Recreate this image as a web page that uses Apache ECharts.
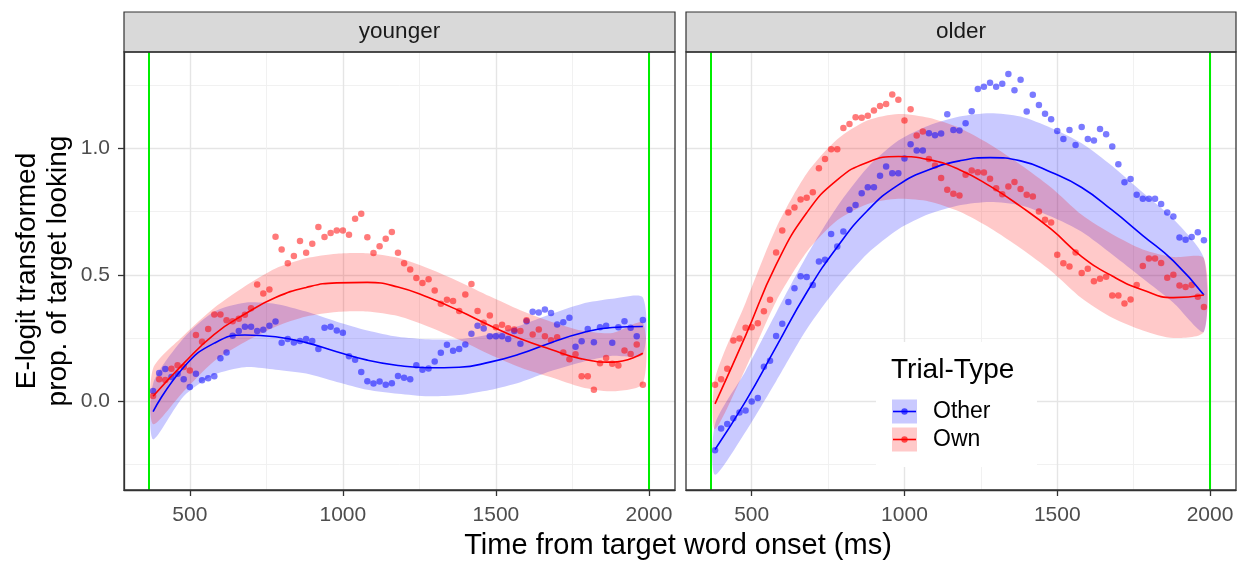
<!DOCTYPE html>
<html>
<head>
<meta charset="utf-8">
<script src="https://cdn.jsdelivr.net/npm/echarts@6.0.0/dist/echarts.min.js"></script>
<style>
  html, body { margin: 0; padding: 0; background: #fff; }
  #container { width: 1251px; height: 564px; }
</style>
</head>
<body>
<div id="container"></div>
<script>
// time bins (ms), shared by every point series
var times = [380, 400, 420, 440, 460, 480, 500, 520, 540, 560, 580, 600, 620, 640, 660, 680, 700, 720, 740, 760,
  780, 800, 820, 840, 860, 880, 900, 920, 940, 960, 980, 1000, 1020, 1040, 1060, 1080, 1100, 1120, 1140, 1160,
  1180, 1200, 1220, 1240, 1260, 1280, 1300, 1320, 1340, 1360, 1380, 1400, 1420, 1440, 1460, 1480, 1500, 1520, 1540, 1560,
  1580, 1600, 1620, 1640, 1660, 1680, 1700, 1720, 1740, 1760, 1780, 1800, 1820, 1840, 1860, 1880, 1900, 1920, 1940, 1960, 1980];

var youngOwn = [0.021, 0.087, 0.084, 0.129, 0.143, 0.136, 0.122, 0.262, 0.236, 0.286, 0.343, 0.343, 0.320, 0.317, 0.326, 0.342, 0.368, 0.462, 0.426, 0.442,
  0.650, 0.600, 0.546, 0.574, 0.633, 0.587, 0.623, 0.689, 0.649, 0.665, 0.675, 0.675, 0.658, 0.721, 0.741, 0.648, 0.586, 0.613, 0.642, 0.669,
  0.587, 0.546, 0.521, 0.487, 0.468, 0.482, 0.438, 0.386, 0.401, 0.397, 0.357, 0.422, 0.464, 0.357, 0.311, 0.339, 0.293, 0.303, 0.289, 0.284,
  0.278, 0.320, 0.264, 0.284, 0.257, 0.241, 0.253, 0.193, 0.166, 0.186, 0.099, 0.099, 0.046, 0.151, 0.171, 0.149, 0.142, 0.201, 0.187, 0.225, 0.066];

var youngOther = [0.041, 0.112, 0.128, 0.096, 0.109, 0.087, 0.057, 0.109, 0.083, 0.091, 0.099, 0.170, 0.193, 0.259, 0.278, 0.295, 0.295, 0.278, 0.283, 0.299,
  0.316, 0.232, 0.246, 0.233, 0.239, 0.246, 0.239, 0.207, 0.291, 0.295, 0.280, 0.271, 0.178, 0.164, 0.116, 0.080, 0.071, 0.079, 0.066, 0.072,
  0.100, 0.093, 0.087, 0.143, 0.125, 0.130, 0.158, 0.192, 0.224, 0.200, 0.207, 0.225, 0.267, 0.299, 0.288, 0.257, 0.257, 0.257, 0.246, 0.278,
  0.228, 0.317, 0.354, 0.351, 0.363, 0.349, 0.304, 0.313, 0.330, 0.216, 0.238, 0.286, 0.234, 0.293, 0.299, 0.232, 0.293, 0.317, 0.291, 0.257, 0.321];

var olderOwn = [0.066, 0.087, 0.129, 0.240, 0.248, 0.291, 0.293, 0.309, 0.356, 0.401, 0.588, 0.675, 0.746, 0.766, 0.797, 0.804, 0.826, 0.921, 0.957, 0.996,
  0.996, 1.080, 1.096, 1.122, 1.120, 1.128, 1.149, 1.167, 1.175, 1.212, 1.191, 1.109, 1.154, 1.050, 1.066, 0.957, 0.932, 0.882, 0.836, 0.820,
  0.813, 0.895, 0.912, 0.905, 0.904, 0.879, 0.842, 0.818, 0.849, 0.867, 0.839, 0.816, 0.809, 0.750, 0.717, 0.707, 0.579, 0.546, 0.533, 0.588,
  0.507, 0.524, 0.475, 0.484, 0.492, 0.418, 0.418, 0.387, 0.402, 0.460, 0.535, 0.564, 0.564, 0.547, 0.488, 0.500, 0.458, 0.452, 0.460, 0.413, 0.373];

var olderOther = [-0.193, -0.107, -0.089, -0.067, -0.044, -0.036, 0.000, 0.013, 0.137, 0.161, 0.258, 0.307, 0.393, 0.447, 0.494, 0.491, 0.460, 0.553, 0.559, 0.661,
  0.612, 0.671, 0.757, 0.776, 0.822, 0.846, 0.846, 0.891, 0.928, 0.901, 0.901, 0.959, 1.016, 0.991, 0.991, 1.059, 1.051, 1.058, 1.134, 1.072,
  1.070, 1.099, 1.146, 1.234, 1.243, 1.259, 1.243, 1.255, 1.293, 1.229, 1.270, 1.145, 1.211, 1.171, 1.136, 1.114, 1.068, 1.036, 1.072, 1.013,
  1.084, 1.036, 1.030, 1.076, 1.055, 1.007, 0.937, 0.866, 0.878, 0.816, 0.800, 0.800, 0.800, 0.780, 0.746, 0.730, 0.647, 0.638, 0.649, 0.668, 0.636];

// fitted curves and their confidence bands, read at these times
var fitT = [380, 480, 580, 680, 780, 880, 980, 1080, 1180, 1280, 1380, 1480, 1580, 1680, 1780, 1880, 1980];

var youngOwnFit = [0.02, 0.15, 0.265, 0.345, 0.41, 0.45, 0.468, 0.47, 0.452, 0.41, 0.358, 0.30, 0.247, 0.205, 0.168, 0.155, 0.19];
var youngOwnHi  = [0.13, 0.26, 0.37, 0.455, 0.525, 0.565, 0.583, 0.585, 0.567, 0.525, 0.473, 0.415, 0.36, 0.315, 0.28, 0.27, 0.31];
var youngOwnLo  = [-0.09, 0.04, 0.16, 0.235, 0.295, 0.335, 0.353, 0.355, 0.337, 0.295, 0.243, 0.185, 0.134, 0.095, 0.056, 0.04, 0.07];

var youngOtherFit = [-0.04, 0.135, 0.23, 0.262, 0.255, 0.232, 0.196, 0.163, 0.142, 0.133, 0.135, 0.155, 0.188, 0.232, 0.27, 0.292, 0.296];
var youngOtherHi  = [0.07, 0.25, 0.355, 0.39, 0.385, 0.355, 0.315, 0.28, 0.255, 0.245, 0.245, 0.265, 0.30, 0.345, 0.385, 0.405, 0.41];
var youngOtherLo  = [-0.15, 0.02, 0.105, 0.135, 0.125, 0.11, 0.077, 0.046, 0.03, 0.02, 0.025, 0.045, 0.076, 0.12, 0.155, 0.18, 0.185];

var olderOwnFit = [-0.01, 0.26, 0.54, 0.745, 0.875, 0.945, 0.967, 0.955, 0.915, 0.85, 0.77, 0.68, 0.572, 0.495, 0.44, 0.41, 0.42];
var olderOwnHi  = [0.09, 0.39, 0.685, 0.90, 1.035, 1.11, 1.135, 1.12, 1.08, 1.015, 0.935, 0.845, 0.737, 0.66, 0.60, 0.57, 0.565];
var olderOwnLo  = [-0.11, 0.13, 0.395, 0.59, 0.715, 0.78, 0.80, 0.79, 0.75, 0.685, 0.605, 0.515, 0.407, 0.33, 0.28, 0.25, 0.275];

var olderOtherFit = [-0.19, 0.0, 0.215, 0.43, 0.61, 0.755, 0.855, 0.915, 0.95, 0.963, 0.95, 0.905, 0.845, 0.755, 0.655, 0.555, 0.42];
var olderOtherHi  = [-0.09, 0.12, 0.35, 0.575, 0.77, 0.925, 1.03, 1.09, 1.125, 1.138, 1.125, 1.08, 1.02, 0.93, 0.825, 0.72, 0.565];
var olderOtherLo  = [-0.29, -0.12, 0.08, 0.285, 0.45, 0.585, 0.68, 0.74, 0.775, 0.788, 0.775, 0.73, 0.67, 0.58, 0.485, 0.39, 0.275];

var windowT = [367, 2000];          // green analysis-window lines
var xTicks = [500, 1000, 1500, 2000];
var xMinor = [750, 1250, 1750];
var yTicks = [0, 0.5, 1.0];
var yMinor = [-0.25, 0.25, 0.75, 1.25];
var panels = ['younger', 'older'];

var FONT = "'Liberation Sans', Arial, Helvetica, sans-serif";
var BLUE = '#0000FF', RED = '#FF0000';
var BLUE_PT = 'rgba(0,0,255,0.65)', RED_PT = 'rgba(255,0,0,0.65)';
var BLUE_BAND = 'rgba(0,0,255,0.21)', RED_BAND = 'rgba(255,0,0,0.21)';

function pairs(xs, ys) {
  return xs.map(function (x, i) { return [x, ys[i]]; });
}

var grids = [
  { left: 124, top: 52, width: 551, height: 438 },
  { left: 686, top: 52, width: 550, height: 438 }
];

var xAxes = [], yAxes = [];
grids.forEach(function (g, gi) {
  xAxes.push({
    type: 'value', gridIndex: gi, min: 285, max: 2085, position: 'bottom',
    axisLine: { show: true, onZero: false, lineStyle: { color: '#333', width: 1.3 } },
    axisTick: { show: true, inside: false, customValues: xTicks, length: 6, lineStyle: { color: '#333', width: 1.3 } },
    axisLabel: {
      customValues: xTicks, fontSize: 21, color: '#4D4D4D', fontFamily: FONT, margin: 15,
      formatter: function (v) { return String(v); }
    },
    splitLine: { show: true, lineStyle: { color: '#E5E5E5', width: 1.4 } }
  });
  yAxes.push({
    type: 'value', gridIndex: gi, min: -0.35, max: 1.38, position: 'left',
    axisLine: { show: gi === 0, onZero: false, lineStyle: { color: '#333', width: 1.3 } },
    axisTick: { show: gi === 0, inside: false, customValues: yTicks, length: 6, lineStyle: { color: '#333', width: 1.3 } },
    axisLabel: {
      show: gi === 0, customValues: yTicks, fontSize: 21, color: '#4D4D4D', fontFamily: FONT, margin: 14,
      formatter: function (v) { return v.toFixed(1); }
    },
    splitLine: { show: true, lineStyle: { color: '#E5E5E5', width: 1.4 } }
  });
});
// minor grid lines on twin axes
grids.forEach(function (g, gi) {
  xAxes.push({
    type: 'value', gridIndex: gi, min: 285, max: 2085, position: 'top',
    axisLine: { show: false, onZero: false }, axisLabel: { show: false },
    axisTick: { show: false, customValues: xMinor },
    splitLine: { show: true, lineStyle: { color: '#EFEFEF', width: 0.9 } }
  });
  yAxes.push({
    type: 'value', gridIndex: gi, min: -0.35, max: 1.38, position: 'right',
    axisLine: { show: false, onZero: false }, axisLabel: { show: false },
    axisTick: { show: false, customValues: yMinor },
    splitLine: { show: true, lineStyle: { color: '#EFEFEF', width: 0.9 } }
  });
});

var series = [];

// confidence band drawn as one polygon through the band's upper then lower edge
function band(gi, lo, hi, color) {
  series.push({
    type: 'custom', xAxisIndex: gi, yAxisIndex: gi, silent: true, z: 2,
    data: fitT.map(function (t, i) { return [t, lo[i], hi[i]]; }),
    encode: { x: 0, y: [1, 2] },
    renderItem: function (params, api) {
      if (params.dataIndex !== 0) return;
      var upper = fitT.map(function (t, i) { return api.coord([t, hi[i]]); });
      var lower = fitT.map(function (t, i) { return api.coord([t, lo[i]]); }).reverse();
      return {
        type: 'group',
        children: [{
          type: 'polygon',
          shape: { points: upper.concat(lower), smooth: 0.25 },
          style: { fill: color }
        }]
      };
    }
  });
}

function fitLine(gi, fit, color) {
  series.push({
    type: 'line', xAxisIndex: gi, yAxisIndex: gi, data: pairs(fitT, fit),
    smooth: true, symbol: 'none', silent: true, z: 5,
    lineStyle: { color: color, width: 1.6 }
  });
}

function points(gi, vals, color, withWindow) {
  var s = {
    type: 'scatter', xAxisIndex: gi, yAxisIndex: gi, data: pairs(times, vals),
    symbolSize: 6.5, silent: true, z: 4,
    itemStyle: { color: color }
  };
  if (withWindow) {
    s.markLine = {
      silent: true, symbol: ['none', 'none'], label: { show: false },
      lineStyle: { color: '#00EE00', width: 2, type: 'solid' },
      data: windowT.map(function (t) { return { xAxis: t }; })
    };
  }
  series.push(s);
}

band(0, youngOtherLo, youngOtherHi, BLUE_BAND);
band(0, youngOwnLo, youngOwnHi, RED_BAND);
points(0, youngOther, BLUE_PT, true);
points(0, youngOwn, RED_PT, false);
fitLine(0, youngOtherFit, BLUE);
fitLine(0, youngOwnFit, RED);

band(1, olderOtherLo, olderOtherHi, BLUE_BAND);
band(1, olderOwnLo, olderOwnHi, RED_BAND);
points(1, olderOther, BLUE_PT, true);
points(1, olderOwn, RED_PT, false);
fitLine(1, olderOtherFit, BLUE);
fitLine(1, olderOwnFit, RED);

// facet strips, axis titles and the ggplot-style legend
var graphics = [];
grids.forEach(function (g, gi) {
  graphics.push({
    type: 'rect', shape: { x: g.left, y: 12, width: g.width, height: g.top - 12 },
    style: { fill: '#D9D9D9', stroke: '#333', lineWidth: 1.2 }, z: 10
  });
  graphics.push({
    type: 'text', x: g.left + g.width / 2, y: 32,
    style: { text: panels[gi], fontSize: 22.5, fontFamily: FONT, fill: '#1A1A1A', textAlign: 'center', textVerticalAlign: 'middle' },
    z: 11
  });
  graphics.push({
    type: 'rect', shape: { x: g.left, y: g.top, width: g.width, height: g.height },
    style: { fill: 'none', stroke: '#333', lineWidth: 1.3 }, z: 10, silent: true
  });
});
graphics.push({
  type: 'text', x: 678, y: 546,
  style: { text: 'Time from target word onset (ms)', fontSize: 29, fontFamily: FONT, fill: '#000', textAlign: 'center', textVerticalAlign: 'middle' }
});
graphics.push({
  type: 'text', x: 43, y: 271, rotation: Math.PI / 2,
  style: { text: 'E-logit transformed\nprop. of target looking', fontSize: 28, lineHeight: 31, fontFamily: FONT, fill: '#000', textAlign: 'center', textVerticalAlign: 'middle' }
});

var legendItems = [
  { name: 'Other', band: BLUE_BAND, line: BLUE, pt: BLUE_PT },
  { name: 'Own', band: RED_BAND, line: RED, pt: RED_PT }
];
graphics.push({ type: 'rect', shape: { x: 876, y: 342, width: 161, height: 125 }, style: { fill: '#fff' }, z: 20 });
graphics.push({
  type: 'text', x: 891, y: 370, z: 21,
  style: { text: 'Trial-Type', fontSize: 28, fontFamily: FONT, fill: '#000', textVerticalAlign: 'middle' }
});
legendItems.forEach(function (it, i) {
  var y0 = 399.5 + i * 28;
  graphics.push({ type: 'rect', shape: { x: 892, y: y0, width: 25, height: 24 }, style: { fill: it.band }, z: 21 });
  graphics.push({ type: 'line', shape: { x1: 893, y1: y0 + 12, x2: 916, y2: y0 + 12 }, style: { stroke: it.line, lineWidth: 1.6 }, z: 22 });
  graphics.push({ type: 'circle', shape: { cx: 904.5, cy: y0 + 12, r: 3.2 }, style: { fill: it.pt }, z: 22 });
  graphics.push({
    type: 'text', x: 933, y: y0 + 12.5, z: 22,
    style: { text: it.name, fontSize: 23, fontFamily: FONT, fill: '#000', textVerticalAlign: 'middle' }
  });
});

var myChart = echarts.init(document.getElementById('container'));
var option = {
  animation: false,
  backgroundColor: '#fff',
  textStyle: { fontFamily: FONT },
  grid: grids.map(function (g) { return Object.assign({ show: true, backgroundColor: '#fff', borderWidth: 0 }, g); }),
  xAxis: xAxes,
  yAxis: yAxes,
  series: series,
  graphic: graphics
};
myChart.setOption(option);
</script>
</body>
</html>
